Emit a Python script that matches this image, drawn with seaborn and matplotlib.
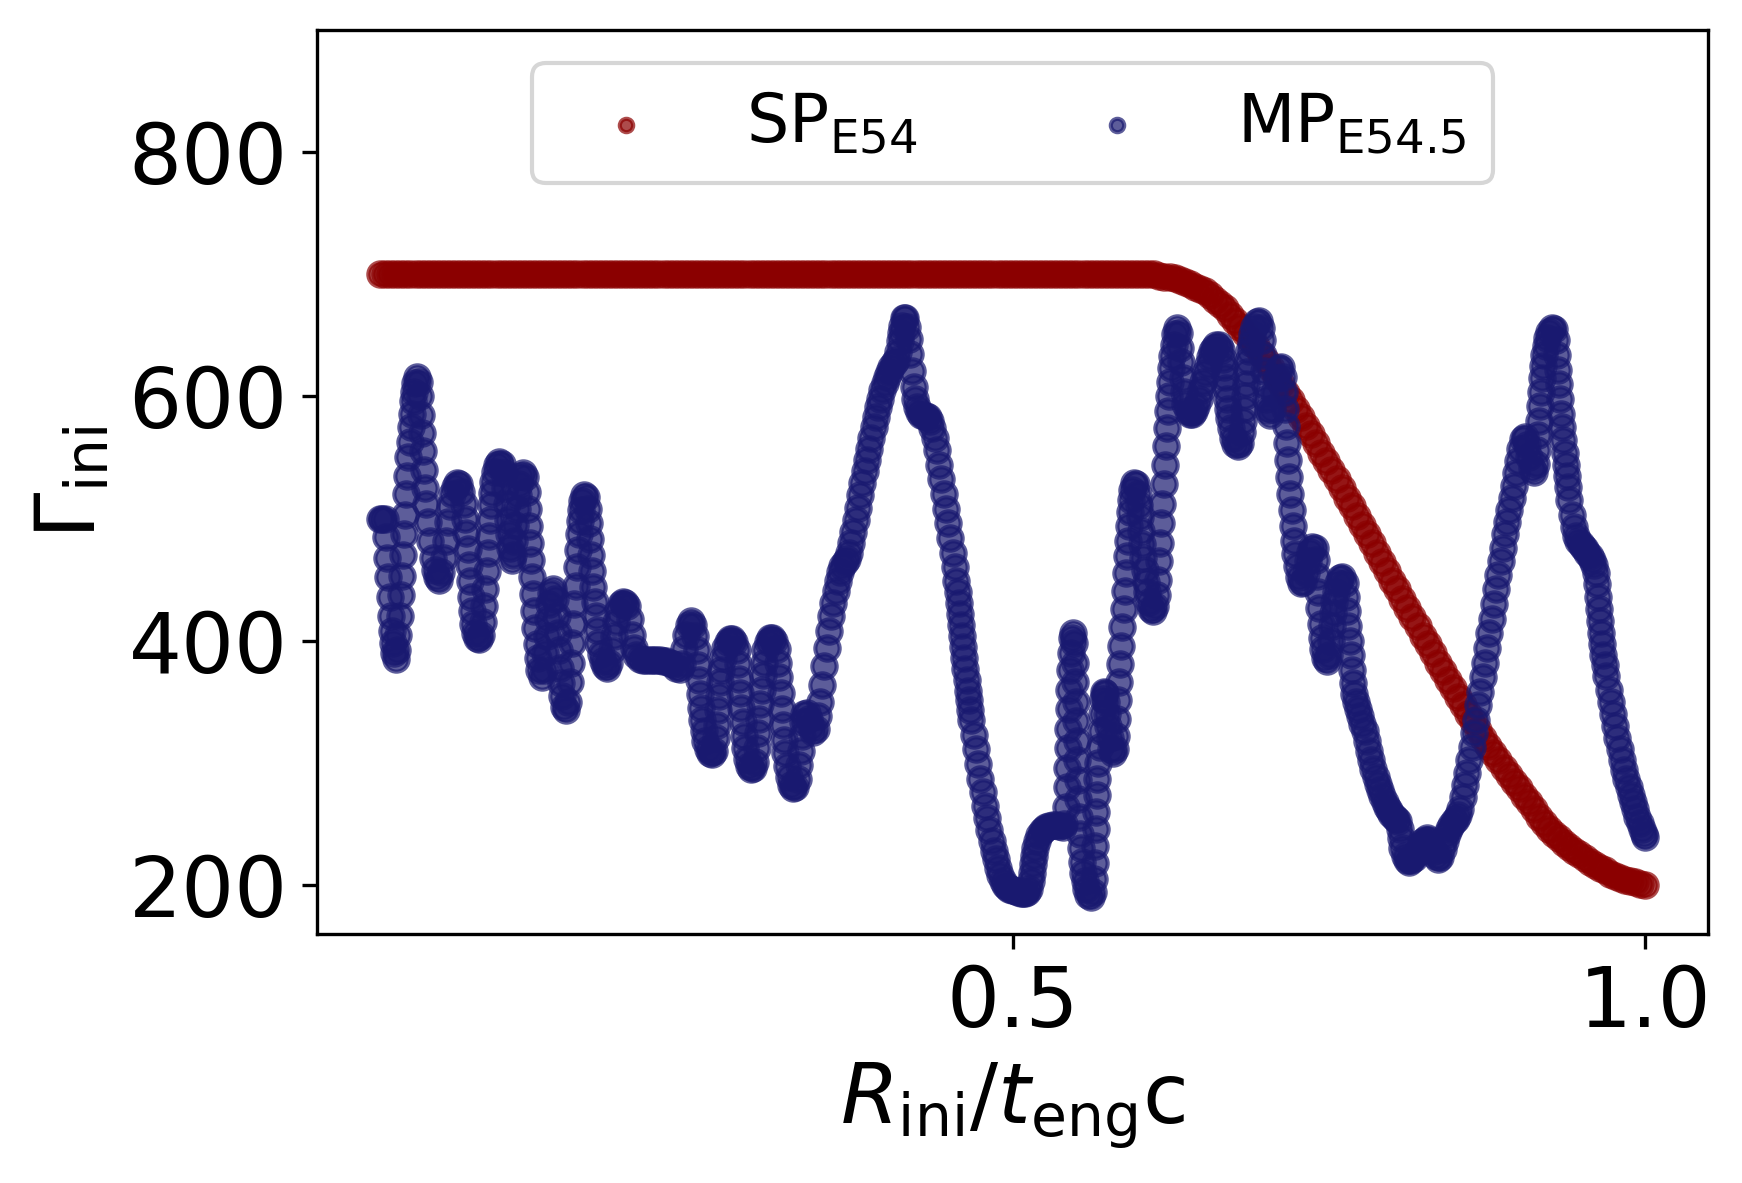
import numpy as np
import matplotlib
matplotlib.use("Agg")
import matplotlib.pyplot as plt
import seaborn as sns

# ---------------- data ----------------
# SP_E54 : sampled on a regular grid 0 ... 1 (step 0.004)
sp_x = np.linspace(0.0, 1.0, 251)
sp_flat = [700] * 151                     # x = 0.000 ... 0.600
sp_tail = [
    700, 700, 700, 699, 698, 698, 697, 695, 694, 692,
    690, 688, 686, 683, 679, 676, 672, 667, 662, 657,
    652, 646, 641, 635, 629, 623, 616, 610, 603, 597,
    590, 583, 576, 569, 562, 554, 547, 540, 532, 525,
    517, 510, 502, 495, 487, 480, 472, 464, 457, 449,
    442, 434, 427, 419, 412, 404, 397, 390, 382, 375,
    368, 361, 354, 347, 340, 334, 327, 320, 314, 308,
    302, 296, 290, 284, 279, 273, 268, 262, 256, 251,
    246, 242, 238, 234, 231, 228, 225, 222, 219, 216,
    214, 212, 209, 207, 206, 204, 203, 202, 201, 200,
]                                         # x = 0.604 ... 1.000
sp_y = sp_flat + sp_tail

# MP_E54.5 : traced points
mp_x = [
    0.0000, 0.0018, 0.0035, 0.0048, 0.0057, 0.0066, 0.0075, 0.0084, 0.0092, 0.0101,
    0.0110, 0.0123, 0.0136, 0.0145, 0.0154, 0.0163, 0.0172, 0.0180, 0.0189, 0.0198,
    0.0207, 0.0216, 0.0224, 0.0233, 0.0242, 0.0251, 0.0260, 0.0268, 0.0277, 0.0290,
    0.0304, 0.0313, 0.0321, 0.0330, 0.0339, 0.0348, 0.0357, 0.0365, 0.0379, 0.0396,
    0.0414, 0.0431, 0.0449, 0.0467, 0.0484, 0.0502, 0.0519, 0.0537, 0.0555, 0.0572,
    0.0590, 0.0607, 0.0625, 0.0643, 0.0660, 0.0673, 0.0682, 0.0691, 0.0700, 0.0709,
    0.0717, 0.0726, 0.0735, 0.0748, 0.0766, 0.0783, 0.0801, 0.0814, 0.0823, 0.0832,
    0.0841, 0.0849, 0.0858, 0.0867, 0.0876, 0.0885, 0.0893, 0.0907, 0.0924, 0.0942,
    0.0960, 0.0977, 0.0990, 0.0999, 0.1008, 0.1017, 0.1026, 0.1039, 0.1052, 0.1061,
    0.1070, 0.1078, 0.1087, 0.1096, 0.1109, 0.1127, 0.1144, 0.1158, 0.1166, 0.1175,
    0.1184, 0.1193, 0.1202, 0.1210, 0.1219, 0.1228, 0.1237, 0.1246, 0.1259, 0.1276,
    0.1294, 0.1307, 0.1316, 0.1325, 0.1334, 0.1347, 0.1364, 0.1382, 0.1395, 0.1404,
    0.1413, 0.1422, 0.1430, 0.1439, 0.1452, 0.1470, 0.1488, 0.1501, 0.1510, 0.1518,
    0.1527, 0.1536, 0.1545, 0.1554, 0.1562, 0.1571, 0.1580, 0.1589, 0.1598, 0.1611,
    0.1629, 0.1642, 0.1651, 0.1659, 0.1668, 0.1677, 0.1686, 0.1695, 0.1703, 0.1712,
    0.1725, 0.1743, 0.1761, 0.1778, 0.1796, 0.1813, 0.1831, 0.1849, 0.1866, 0.1884,
    0.1901, 0.1919, 0.1937, 0.1954, 0.1972, 0.1989, 0.2007, 0.2025, 0.2051, 0.2077,
    0.2104, 0.2130, 0.2157, 0.2183, 0.2210, 0.2236, 0.2262, 0.2289, 0.2315, 0.2342,
    0.2368, 0.2386, 0.2403, 0.2421, 0.2438, 0.2456, 0.2474, 0.2491, 0.2504, 0.2513,
    0.2522, 0.2531, 0.2540, 0.2548, 0.2557, 0.2570, 0.2588, 0.2606, 0.2623, 0.2641,
    0.2654, 0.2663, 0.2672, 0.2680, 0.2689, 0.2698, 0.2711, 0.2729, 0.2746, 0.2764,
    0.2782, 0.2799, 0.2817, 0.2830, 0.2839, 0.2848, 0.2856, 0.2865, 0.2874, 0.2883,
    0.2896, 0.2914, 0.2931, 0.2949, 0.2967, 0.2980, 0.2989, 0.2997, 0.3006, 0.3015,
    0.3024, 0.3033, 0.3046, 0.3063, 0.3081, 0.3099, 0.3116, 0.3134, 0.3147, 0.3156,
    0.3165, 0.3173, 0.3182, 0.3191, 0.3200, 0.3213, 0.3231, 0.3248, 0.3266, 0.3283,
    0.3301, 0.3314, 0.3323, 0.3332, 0.3341, 0.3354, 0.3371, 0.3389, 0.3407, 0.3424,
    0.3442, 0.3460, 0.3477, 0.3495, 0.3512, 0.3530, 0.3548, 0.3565, 0.3583, 0.3600,
    0.3618, 0.3636, 0.3653, 0.3671, 0.3688, 0.3706, 0.3724, 0.3741, 0.3759, 0.3776,
    0.3794, 0.3812, 0.3829, 0.3847, 0.3864, 0.3882, 0.3900, 0.3917, 0.3935, 0.3952,
    0.3970, 0.3988, 0.4005, 0.4023, 0.4040, 0.4058, 0.4076, 0.4093, 0.4107, 0.4115,
    0.4124, 0.4137, 0.4151, 0.4164, 0.4177, 0.4190, 0.4203, 0.4217, 0.4230, 0.4243,
    0.4261, 0.4278, 0.4296, 0.4313, 0.4331, 0.4349, 0.4366, 0.4384, 0.4401, 0.4419,
    0.4437, 0.4454, 0.4472, 0.4489, 0.4507, 0.4525, 0.4542, 0.4555, 0.4564, 0.4573,
    0.4582, 0.4591, 0.4599, 0.4608, 0.4617, 0.4626, 0.4635, 0.4643, 0.4652, 0.4661,
    0.4674, 0.4692, 0.4710, 0.4727, 0.4745, 0.4762, 0.4780, 0.4798, 0.4815, 0.4833,
    0.4850, 0.4868, 0.4886, 0.4903, 0.4921, 0.4938, 0.4956, 0.4974, 0.4991, 0.5009,
    0.5026, 0.5044, 0.5062, 0.5079, 0.5097, 0.5114, 0.5132, 0.5145, 0.5154, 0.5163,
    0.5172, 0.5180, 0.5194, 0.5211, 0.5229, 0.5246, 0.5264, 0.5290, 0.5317, 0.5343,
    0.5370, 0.5396, 0.5409, 0.5418, 0.5427, 0.5431, 0.5436, 0.5440, 0.5445, 0.5449,
    0.5453, 0.5458, 0.5467, 0.5475, 0.5484, 0.5489, 0.5493, 0.5497, 0.5502, 0.5506,
    0.5511, 0.5515, 0.5519, 0.5524, 0.5533, 0.5541, 0.5550, 0.5559, 0.5568, 0.5581,
    0.5599, 0.5616, 0.5634, 0.5643, 0.5647, 0.5651, 0.5656, 0.5660, 0.5665, 0.5669,
    0.5678, 0.5687, 0.5695, 0.5704, 0.5713, 0.5722, 0.5731, 0.5739, 0.5748, 0.5757,
    0.5766, 0.5779, 0.5792, 0.5805, 0.5814, 0.5823, 0.5832, 0.5841, 0.5849, 0.5858,
    0.5867, 0.5876, 0.5885, 0.5893, 0.5902, 0.5911, 0.5920, 0.5929, 0.5937, 0.5946,
    0.5960, 0.5977, 0.5990, 0.5999, 0.6008, 0.6017, 0.6026, 0.6034, 0.6043, 0.6052,
    0.6061, 0.6074, 0.6092, 0.6109, 0.6127, 0.6140, 0.6149, 0.6158, 0.6166, 0.6175,
    0.6184, 0.6193, 0.6202, 0.6210, 0.6219, 0.6228, 0.6237, 0.6246, 0.6254, 0.6263,
    0.6272, 0.6285, 0.6298, 0.6312, 0.6325, 0.6334, 0.6343, 0.6351, 0.6364, 0.6382,
    0.6400, 0.6417, 0.6435, 0.6452, 0.6470, 0.6488, 0.6505, 0.6523, 0.6541, 0.6558,
    0.6576, 0.6593, 0.6611, 0.6629, 0.6646, 0.6659, 0.6668, 0.6677, 0.6686, 0.6695,
    0.6703, 0.6712, 0.6725, 0.6743, 0.6761, 0.6778, 0.6796, 0.6809, 0.6818, 0.6827,
    0.6835, 0.6844, 0.6853, 0.6862, 0.6871, 0.6880, 0.6893, 0.6910, 0.6928, 0.6945,
    0.6959, 0.6967, 0.6976, 0.6985, 0.6994, 0.7003, 0.7016, 0.7033, 0.7051, 0.7069,
    0.7086, 0.7104, 0.7121, 0.7135, 0.7143, 0.7152, 0.7161, 0.7170, 0.7179, 0.7187,
    0.7196, 0.7205, 0.7214, 0.7223, 0.7231, 0.7245, 0.7262, 0.7280, 0.7298, 0.7315,
    0.7333, 0.7350, 0.7368, 0.7386, 0.7399, 0.7408, 0.7416, 0.7425, 0.7434, 0.7443,
    0.7452, 0.7465, 0.7482, 0.7500, 0.7513, 0.7522, 0.7531, 0.7540, 0.7553, 0.7570,
    0.7588, 0.7606, 0.7623, 0.7636, 0.7645, 0.7654, 0.7663, 0.7672, 0.7680, 0.7689,
    0.7698, 0.7711, 0.7729, 0.7746, 0.7764, 0.7782, 0.7799, 0.7817, 0.7835, 0.7852,
    0.7870, 0.7887, 0.7905, 0.7923, 0.7940, 0.7958, 0.7975, 0.7993, 0.8011, 0.8028,
    0.8046, 0.8059, 0.8068, 0.8081, 0.8099, 0.8116, 0.8134, 0.8151, 0.8169, 0.8187,
    0.8204, 0.8222, 0.8239, 0.8257, 0.8275, 0.8292, 0.8310, 0.8327, 0.8345, 0.8363,
    0.8380, 0.8398, 0.8415, 0.8433, 0.8451, 0.8468, 0.8486, 0.8504, 0.8521, 0.8539,
    0.8556, 0.8574, 0.8592, 0.8609, 0.8627, 0.8644, 0.8662, 0.8680, 0.8697, 0.8715,
    0.8732, 0.8750, 0.8768, 0.8785, 0.8803, 0.8820, 0.8838, 0.8856, 0.8873, 0.8891,
    0.8908, 0.8926, 0.8944, 0.8961, 0.8979, 0.8996, 0.9014, 0.9032, 0.9049, 0.9067,
    0.9085, 0.9102, 0.9120, 0.9133, 0.9142, 0.9151, 0.9159, 0.9168, 0.9177, 0.9186,
    0.9195, 0.9203, 0.9212, 0.9225, 0.9243, 0.9261, 0.9278, 0.9291, 0.9300, 0.9309,
    0.9318, 0.9327, 0.9335, 0.9344, 0.9353, 0.9362, 0.9371, 0.9379, 0.9388, 0.9401,
    0.9419, 0.9437, 0.9454, 0.9472, 0.9489, 0.9507, 0.9525, 0.9542, 0.9560, 0.9577,
    0.9595, 0.9608, 0.9617, 0.9626, 0.9635, 0.9644, 0.9652, 0.9661, 0.9670, 0.9679,
    0.9692, 0.9710, 0.9727, 0.9745, 0.9762, 0.9780, 0.9798, 0.9815, 0.9833, 0.9850,
    0.9868, 0.9886, 0.9903, 0.9921, 0.9938, 0.9956, 0.9974, 0.9991, 1.0000,
]
mp_y = [
    500, 500, 500, 485, 468, 452, 436, 420, 408, 398,
    390, 385, 392, 405, 420, 437, 453, 470, 487, 503,
    520, 535, 550, 563, 575, 586, 596, 604, 611, 616,
    612, 600, 585, 570, 555, 540, 525, 512, 497, 482,
    468, 458, 452, 450, 456, 468, 482, 497, 510, 520,
    526, 529, 528, 522, 512, 500, 488, 475, 462, 449,
    436, 424, 414, 406, 402, 401, 405, 415, 428, 442,
    457, 472, 486, 499, 511, 521, 530, 538, 544, 546,
    545, 537, 525, 512, 499, 487, 476, 466, 470, 482,
    495, 508, 519, 528, 535, 537, 534, 522, 508, 494,
    480, 466, 452, 438, 424, 410, 397, 386, 376, 370,
    376, 390, 404, 418, 430, 439, 442, 434, 420, 406,
    392, 378, 365, 355, 346, 343, 350, 366, 382, 398,
    414, 430, 445, 460, 474, 487, 498, 507, 514, 519,
    518, 508, 496, 483, 470, 457, 444, 432, 420, 409,
    398, 389, 383, 379, 378, 382, 392, 404, 415, 424,
    430, 432, 431, 428, 418, 405, 394, 388, 385, 384,
    384, 384, 384, 384, 384, 383, 383, 382, 381, 378,
    377, 381, 393, 405, 413, 416, 413, 404, 392, 380,
    368, 356, 345, 335, 326, 318, 311, 308, 307, 310,
    320, 331, 343, 355, 366, 376, 386, 394, 399, 401,
    401, 399, 392, 381, 369, 357, 345, 333, 322, 312,
    303, 297, 295, 296, 301, 312, 324, 336, 348, 360,
    372, 382, 392, 399, 402, 402, 400, 393, 382, 370,
    357, 344, 331, 319, 308, 297, 288, 282, 279, 280,
    287, 298, 310, 322, 333, 340, 341, 336, 329, 325,
    328, 338, 350, 364, 379, 394, 408, 420, 431, 441,
    449, 456, 461, 464, 467, 472, 480, 489, 499, 509,
    519, 529, 539, 548, 557, 566, 575, 583, 591, 598,
    605, 611, 616, 620, 624, 627, 630, 636, 645, 652,
    658, 664, 664, 657, 647, 635, 621, 608, 598, 591,
    587, 585, 584, 584, 583, 580, 574, 566, 556, 544,
    532, 520, 508, 496, 484, 472, 460, 449, 440, 431,
    422, 413, 404, 395, 386, 377, 368, 359, 351, 343,
    335, 323, 311, 299, 287, 276, 265, 255, 245, 236,
    228, 221, 214, 208, 203, 200, 198, 197, 196, 196,
    195, 194, 193, 193, 193, 194, 197, 203, 210, 217,
    224, 230, 236, 241, 244, 246, 247, 248, 249, 249,
    248, 247, 250, 264, 280, 296, 312, 328, 344, 360,
    376, 390, 402, 406, 398, 382, 366, 350, 334, 318,
    302, 286, 270, 256, 242, 230, 219, 210, 203, 197,
    192, 190, 194, 205, 218, 232, 246, 260, 274, 287,
    300, 313, 326, 340, 352, 358, 357, 350, 340, 330,
    320, 311, 308, 311, 322, 336, 351, 366, 381, 396,
    411, 426, 441, 455, 469, 482, 494, 505, 515, 523,
    529, 528, 520, 511, 501, 490, 479, 468, 458, 448,
    440, 432, 426, 424, 428, 437, 450, 465, 480, 496,
    512, 528, 544, 559, 574, 588, 600, 612, 623, 633,
    642, 651, 656, 652, 640, 628, 615, 604, 594, 588,
    586, 586, 588, 592, 598, 605, 612, 619, 626, 632,
    637, 640, 642, 642, 638, 631, 624, 616, 607, 598,
    590, 582, 574, 566, 561, 559, 562, 571, 580, 590,
    600, 610, 620, 629, 637, 644, 651, 657, 661, 662,
    656, 646, 634, 621, 609, 598, 589, 585, 590, 603,
    615, 623, 624, 616, 604, 590, 576, 562, 548, 534,
    520, 507, 494, 482, 471, 461, 452, 447, 448, 455,
    465, 473, 477, 476, 466, 453, 440, 427, 414, 402,
    393, 386, 383, 388, 400, 412, 423, 432, 440, 447,
    451, 452, 447, 436, 424, 412, 400, 388, 376, 365,
    356, 350, 344, 338, 332, 326, 318, 310, 302, 295,
    288, 283, 278, 273, 268, 264, 261, 258, 256, 254,
    252, 246, 238, 230, 224, 220, 219, 220, 222, 225,
    228, 232, 235, 237, 238, 237, 233, 228, 224, 221,
    223, 229, 236, 242, 246, 249, 252, 254, 257, 262,
    272, 282, 292, 302, 313, 324, 335, 347, 358, 370,
    382, 394, 406, 418, 430, 442, 454, 465, 476, 487,
    497, 507, 517, 527, 537, 547, 557, 565, 567, 560,
    550, 541, 538, 545, 556, 568, 580, 592, 604, 615,
    625, 634, 641, 648, 653, 656, 655, 646, 634, 622,
    610, 598, 586, 575, 564, 554, 544, 535, 526, 515,
    503, 493, 486, 482, 479, 477, 475, 472, 469, 466,
    462, 455, 446, 436, 426, 416, 406, 397, 388, 380,
    371, 360, 350, 340, 330, 320, 311, 302, 294, 287,
    280, 274, 268, 262, 256, 251, 246, 242, 239,
]

labels = [r"SP$_{\rm E54}$", r"MP$_{\rm E54.5}$"]
colors = ["darkred", "midnightblue"]
x_ticks = [0.5, 1.0]
y_ticks = [200, 400, 600, 800]

# ---------------- figure ----------------
n = min(len(mp_x), len(mp_y))
mp_x, mp_y = mp_x[:n], mp_y[:n]

plt.rcParams["font.family"] = ["DejaVu Sans"]
plt.rcParams["mathtext.fontset"] = "dejavusans"

fig = plt.figure(figsize=(1743 / 300, 1183 / 300), dpi=300)
ax = fig.add_axes([0.1818, 0.2107, 0.7984, 0.7639])

for xs, ys, c in [(sp_x, sp_y, colors[0]), (mp_x, mp_y, colors[1])]:
    sns.scatterplot(x=xs, y=ys, ax=ax, color=c, s=34, alpha=0.7,
                    edgecolor=c, linewidth=1.0, legend=False)

ax.set_xlim(-0.05, 1.05)
ax.set_ylim(160, 900)
ax.set_xticks(x_ticks)
ax.set_yticks(y_ticks)
ax.tick_params(labelsize=20, width=0.8, length=3.5)
for s in ax.spines.values():
    s.set_color("black")
    s.set_linewidth(0.8)

ax.set_xlabel(r"$R_{\rm ini}/t_{\rm eng}$c", fontsize=20)
ax.set_ylabel(r"$\Gamma_{\rm ini}$", fontsize=20)

ax.legend(ax.collections[:2], labels, loc="upper center", ncol=2,
          fontsize=16, markerscale=0.55, columnspacing=2.0)

fig.savefig("out.png", dpi=300)
